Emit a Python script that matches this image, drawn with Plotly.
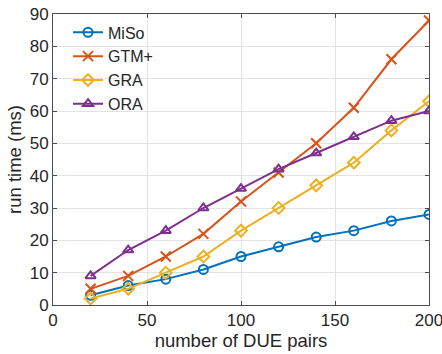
import plotly.graph_objects as go

x_vals = [20, 40, 60, 80, 100, 120, 140, 160, 180, 200]
miso = [3, 6, 8, 11, 15, 18, 21, 23, 26, 28]
gtm = [5, 9, 15, 22, 32, 41, 50, 61, 76, 88]
gra = [2, 5, 10, 15, 23, 30, 37, 44, 54, 63]
ora = [9, 17, 23, 30, 36, 42, 47, 52, 57, 60]

names = ["MiSo", "GTM+", "GRA", "ORA"]
colors = ["#0072BD", "#D95319", "#EDB120", "#7E2F8E"]
symbols = ["circle-open", "x-thin-open", "diamond-open", "triangle-up-open"]
series = [miso, gtm, gra, ora]

fig = go.Figure()
for n, c, s, y in zip(names, colors, symbols, series):
    fig.add_trace(go.Scatter(
        x=x_vals, y=y, name=n, mode="lines+markers",
        line=dict(color=c, width=2),
        marker=dict(symbol=s, size=9 if s != "x-thin-open" else 10,
                    color=c, line=dict(color=c, width=2)),
    ))

FONT = "Liberation Sans, Arial, sans-serif"
axis_common = dict(
    showline=True, linecolor="#4d4d4d", linewidth=1, mirror="ticks",
    ticks="inside", ticklen=4, tickcolor="#4d4d4d",
    showgrid=True, gridcolor="#e3e3e3", gridwidth=1, zeroline=False,
    automargin=False, ticklabeloverflow="allow",
    tickfont=dict(size=17, color="#262626", family=FONT),
    title_font=dict(size=18.5, color="#262626", family=FONT),
)
fig.update_xaxes(range=[0, 200], tickvals=[0, 50, 100, 150, 200],
                 title_text="number of DUE pairs", title_standoff=2, **axis_common)
fig.update_yaxes(range=[0, 90], tickvals=list(range(0, 91, 10)),
                 title_text="run time (ms)", title_standoff=3, **axis_common)

fig.update_layout(
    width=442, height=354,
    margin=dict(l=53, r=13, t=14, b=49),
    plot_bgcolor="white", paper_bgcolor="white",
    font=dict(family=FONT, size=17, color="#262626"),
    legend=dict(x=0.04, y=0.995, xanchor="left", yanchor="top",
                bgcolor="rgba(255,255,255,0)", borderwidth=0,
                font=dict(size=16, color="#262626", family=FONT),
                tracegroupgap=0, itemwidth=30),
    showlegend=True,
)

fig.write_html("out.html")
